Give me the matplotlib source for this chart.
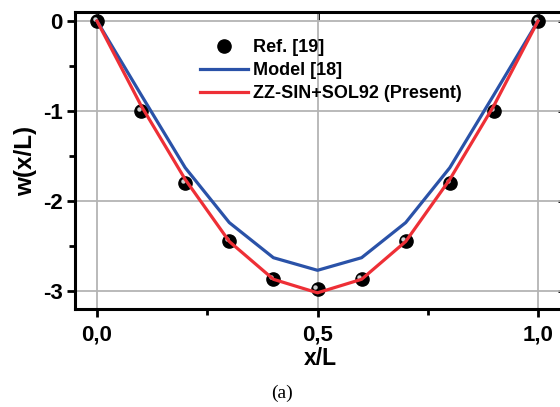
import numpy as np
import matplotlib
matplotlib.use("Agg")
import matplotlib.pyplot as plt
from matplotlib.transforms import ScaledTranslation

# datos
x_ref = [0.0, 0.1, 0.2, 0.3, 0.4, 0.5, 0.6, 0.7, 0.8, 0.9, 1.0]
w_ref = [0.0, -1.0, -1.8, -2.45, -2.87, -2.98, -2.87, -2.45, -1.8, -1.0, 0.0]

x_mod = [0.0, 0.1, 0.2, 0.3, 0.4, 0.5, 0.6, 0.7, 0.8, 0.9, 1.0]
w_mod = [0.0, -0.82, -1.63, -2.24, -2.63, -2.77, -2.63, -2.24, -1.63, -0.82, 0.0]

x_pre = [0.0, 0.1, 0.2, 0.3, 0.4, 0.5, 0.6, 0.7, 0.8, 0.9, 1.0]
w_pre = [0.0, -0.94, -1.76, -2.45, -2.87, -3.02, -2.87, -2.45, -1.76, -0.94, 0.0]

xticks = [0.0, 0.5, 1.0]
xtick_labels = ["0,0", "0,5", "1,0"]
yticks = [0, -1, -2, -3]
ytick_labels = ["0", "-1", "-2", "-3"]

plt.rcParams['font.family'] = ['Liberation Sans', 'DejaVu Sans']
plt.rcParams['font.weight'] = 'bold'

fig = plt.figure(figsize=(5.6, 4.07), dpi=100)
ax = fig.add_axes([75 / 560, 1 - 309 / 407, (565.6 - 75) / 560, (309 - 12) / 407])

azul = '#2a52a8'
rojo = '#ee2f36'

ax.plot(x_mod, w_mod, color=azul, lw=2.3, label='Model [18]', zorder=3)
ax.plot(x_pre, w_pre, color=rojo, lw=2.3, label='ZZ-SIN+SOL92 (Present)', zorder=4)
ax.plot(x_ref, w_ref, 'o', color='black', ms=9.5, label='Ref. [19]', zorder=2)
# brillo de la esfera
brillo = ax.transData + ScaledTranslation(-1.6 / 72, 1.6 / 72, fig.dpi_scale_trans)
ax.plot(x_ref, w_ref, 'o', color='#d0d0d0', ms=3.2, mec='none', transform=brillo, zorder=2.5)

ax.set_xlim(-22 / 441, (565.6 - 97) / 441)
ax.set_ylim(-3.2, 0.1)

ax.set_xticks(xticks)
ax.set_xticklabels(xtick_labels, fontsize=16, fontweight='bold')
ax.set_xticks([0.25, 0.75], minor=True)
ax.set_yticks(yticks)
ax.set_yticklabels(ytick_labels, fontsize=16, fontweight='bold')
ax.set_yticks([-0.5, -1.5, -2.5], minor=True)
ax.tick_params(which='major', direction='out', length=6, width=2, pad=5.5)
ax.tick_params(axis='y', which='major', pad=3)
ax.tick_params(which='minor', direction='out', length=4, width=2)

for s in ax.spines.values():
    s.set_linewidth(2.2)

# marcas internas arriba y a la derecha
sx = ax.secondary_xaxis('top')
sx.set_xticks(xticks)
sx.tick_params(direction='in', length=6, width=2, labeltop=False)
sy = ax.secondary_yaxis('right')
sy.set_yticks(yticks)
sy.tick_params(direction='in', length=6, width=2, labelright=False)

ax.grid(True, which='major', color='#b4b4b4', lw=1.3)
ax.set_axisbelow(True)

ax.set_xlabel('x/L', fontsize=16.5, fontweight='bold', labelpad=0.5)
ax.set_ylabel('w(x/L)', fontsize=17.5, fontweight='bold', labelpad=4)

h, l = ax.get_legend_handles_labels()
orden = [2, 0, 1]
leg = ax.legend([h[i] for i in orden], [l[i] for i in orden],
                loc='upper left', bbox_to_anchor=(191 / 560, 1 - 30 / 407),
                bbox_transform=fig.transFigure, frameon=False, borderpad=0,
                handlelength=2.66, handletextpad=0.28, labelspacing=0.34,
                prop={'size': 13, 'weight': 'bold'})

fig.text(282 / 560, 1 - 393 / 407, '(a)', ha='center', va='center',
         family='Liberation Serif', fontweight='normal', fontsize=14)

fig.savefig('out.png', dpi=100)
